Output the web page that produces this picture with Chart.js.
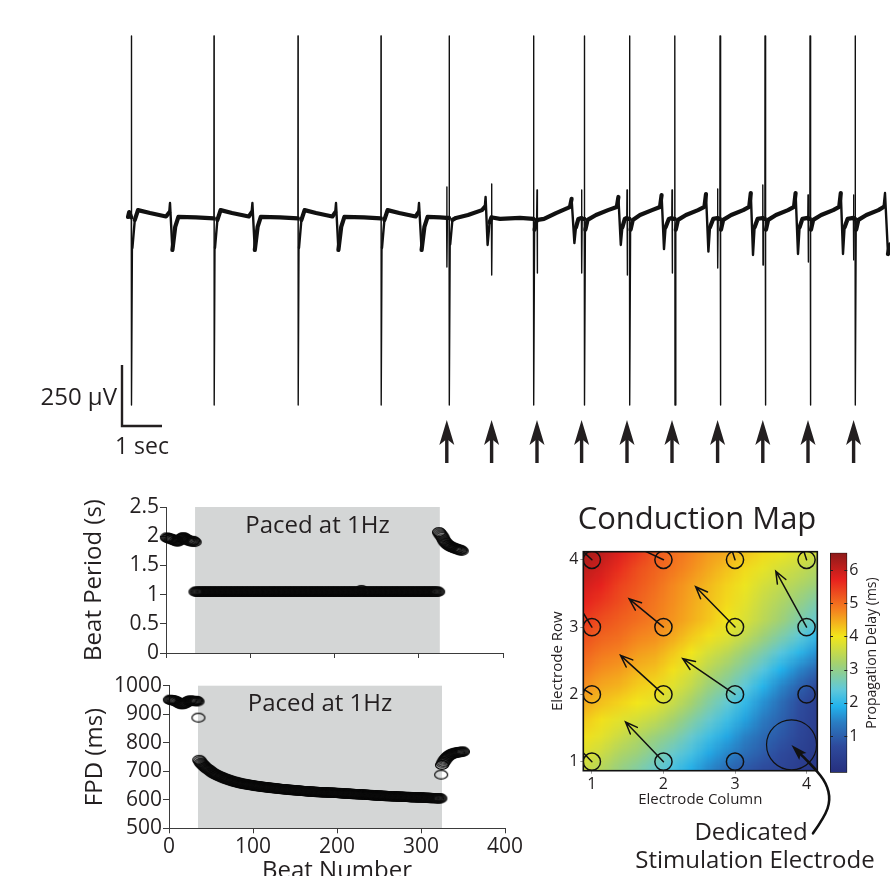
<!DOCTYPE html>
<html>
<head>
<meta charset="utf-8">
<script src="https://cdn.jsdelivr.net/npm/chart.js@4.4.1/dist/chart.umd.min.js"></script>
<style>
  html, body { margin: 0; padding: 0; background: #fff; }
  body { width: 890px; height: 876px; overflow: hidden; position: relative; }
  canvas { position: absolute; }
  #heat-clip { position: absolute; left: 583px; top: 552px; width: 234px; height: 219px; overflow: hidden; }
  #heat { left: -9px; top: -9px; width: 251px; height: 235px; }
</style>
</head>
<body>
<canvas id="trace" width="890" height="470" style="left:0;top:0"></canvas>
<canvas id="period" width="530" height="185" style="left:0;top:490px"></canvas>
<canvas id="fpd" width="530" height="230" style="left:0;top:670px"></canvas>
<div id="heat-clip"><canvas id="heat" width="14" height="14" style="width:251px;height:235px"></canvas></div>
<canvas id="map" width="350" height="381" style="left:540px;top:495px"></canvas>
<canvas id="colorbar" width="110" height="280" style="left:780px;top:540px"></canvas>
<script>
// Field potential recording: [time (s), voltage (µV)]
const tracePoints = [
  [0, -8], [0.03, 12], [0.082, -10], [0.085, 734], [0.09, -779], [0.11, -135], [0.17, -20], [0.25, 20], [0.55, 8], [0.95, -6], [1.03, 10], [1.05, 49], [1.11, -143], [1.18, -49], [1.26, -8], [1.7, -10], [2.147, -14],
  [2.15, 734], [2.155, -779], [2.175, -135], [2.235, -20], [2.315, 20], [2.6, 8], [3.02, -6], [3.09, 10], [3.11, 49], [3.17, -143], [3.24, -49], [3.32, -8], [3.8, -10], [4.247, -14],
  [4.25, 734], [4.255, -779], [4.275, -135], [4.335, -20], [4.415, 20], [4.7, 8], [5.11, -6], [5.18, 10], [5.2, 49], [5.26, -143], [5.33, -49], [5.41, -8], [5.9, -10], [6.322, -14],
  [6.325, 734], [6.33, -779], [6.35, -135], [6.41, -20], [6.49, 20], [6.78, 8], [7.19, -6], [7.255, 10], [7.275, 49], [7.34, -143], [7.41, -49], [7.49, -8], [7.8, -10], [7.965, -12],
  [7.97, 115], [7.975, -213], [7.985, -12], [8.027, -12], [8.03, 734], [8.035, -779], [8.055, -120], [8.11, -20], [8.2, -12], [8.5, 0], [8.85, 20], [8.92, 33], [8.94, 74], [8.99, -123], [9.04, -30], [9.085, -10], [9.09, 127], [9.095, -246], [9.105, -10], [9.3, -16], [9.8, -12], [10.137, -16],
  [10.14, 734], [10.145, -779], [10.165, -60], [10.215, -20], [10.225, 103], [10.23, -238], [10.24, -20], [10.4, -16], [10.7, 8], [11.0, 29], [11.05, 33], [11.09, 66], [11.16, -115], [11.2, -50], [11.26, -16], [11.335, -12],
  [11.34, 103], [11.345, -238], [11.355, -16], [11.407, -16], [11.41, 734], [11.415, -779], [11.435, -60], [11.49, -20], [11.7, 0], [12.0, 20], [12.22, 33], [12.26, 74], [12.32, -123], [12.36, -50], [12.42, -16], [12.47, -12],
  [12.475, 103], [12.48, -246], [12.49, -16], [12.537, -16], [12.54, 734], [12.545, -779], [12.565, -60], [12.62, -20], [12.8, 0], [13.1, 20], [13.3, 33], [13.34, 82], [13.4, -140], [13.44, -50], [13.52, -16], [13.595, -12],
  [13.6, 103], [13.605, -238], [13.615, -16], [13.667, -16], [13.67, 734], [13.675, -779], [13.695, -60], [13.75, -20], [13.95, 0], [14.25, 20], [14.41, 33], [14.45, 86], [14.51, -150], [14.55, -50], [14.63, -16], [14.735, -12],
  [14.74, 107], [14.745, -217], [14.755, -16], [14.797, -16], [14.8, 734], [14.805, -779], [14.825, -60], [14.88, -20], [15.08, 0], [15.38, 20], [15.53, 33], [15.57, 90], [15.625, -164], [15.665, -50], [15.74, -16], [15.865, -12],
  [15.87, 123], [15.875, -205], [15.885, -16], [15.922, -16], [15.925, 734], [15.93, -779], [15.95, -60], [16.005, -20], [16.2, 0], [16.5, 20], [16.65, 33], [16.69, 90], [16.75, -160], [16.79, -50], [16.86, -16], [16.995, -12],
  [17.0, 82], [17.005, -193], [17.015, -16], [17.047, -16], [17.05, 734], [17.055, -779], [17.075, -60], [17.13, -20], [17.33, 0], [17.63, 20], [17.78, 33], [17.82, 90], [17.875, -160], [17.915, -50], [17.99, -16], [18.135, -12],
  [18.14, 82], [18.145, -184], [18.155, -16], [18.177, -16], [18.18, 734], [18.185, -779], [18.205, -60], [18.26, -20], [18.46, 0], [18.76, 20], [18.89, 33], [18.925, 90], [19.0, -160], [19.05, -120],
]
const traceRangeSec = [0, 19.05]
const traceRangeMicrovolts = [-779, 734]
// stimulation pulses (arrows under the trace)
const stimulusSec = [7.97, 9.09, 10.225, 11.34, 12.475, 13.6, 14.74, 15.87, 17.0, 18.14]
const scaleBarSec = 1
const scaleBarMicrovolts = 250
const scaleBarOrigin = [-0.15, -865]

// beat period (s), beat number = index + 1
const spontaneousPeriodSec = [
  1.98, 1.97, 1.97, 1.96, 1.96, 1.95, 1.95, 1.94, 1.94, 1.93,
  1.92, 1.92, 1.91, 1.91, 1.92, 1.93, 1.95, 1.96, 1.97, 1.98,
  1.98, 1.97, 1.96, 1.95, 1.94, 1.93, 1.93, 1.92, 1.92, 1.91,
  1.91, 1.92, 1.91, 1.90,
]
const pacedPeriodSec = [
  1.05, 1.05, 1.05, 1.05, 1.05, 1.05, 1.05, 1.05, 1.05, 1.05,
  1.05, 1.05, 1.05, 1.05, 1.05, 1.05, 1.05, 1.05, 1.05, 1.05,
  1.05, 1.05, 1.05, 1.05, 1.05, 1.05, 1.05, 1.05, 1.05, 1.05,
  1.05, 1.05, 1.05, 1.05, 1.05, 1.05, 1.05, 1.05, 1.05, 1.05,
  1.05, 1.05, 1.05, 1.05, 1.05, 1.05, 1.05, 1.05, 1.05, 1.05,
  1.05, 1.05, 1.05, 1.05, 1.05, 1.05, 1.05, 1.05, 1.05, 1.05,
  1.05, 1.05, 1.05, 1.05, 1.05, 1.05, 1.05, 1.05, 1.05, 1.05,
  1.05, 1.05, 1.05, 1.05, 1.05, 1.05, 1.05, 1.05, 1.05, 1.05,
  1.05, 1.05, 1.05, 1.05, 1.05, 1.05, 1.05, 1.05, 1.05, 1.05,
  1.05, 1.05, 1.05, 1.05, 1.05, 1.05, 1.05, 1.05, 1.05, 1.05,
  1.05, 1.05, 1.05, 1.05, 1.05, 1.05, 1.05, 1.05, 1.05, 1.05,
  1.05, 1.05, 1.05, 1.05, 1.05, 1.05, 1.05, 1.05, 1.05, 1.05,
  1.05, 1.05, 1.05, 1.05, 1.05, 1.05, 1.05, 1.05, 1.05, 1.05,
  1.05, 1.05, 1.05, 1.05, 1.05, 1.05, 1.05, 1.05, 1.05, 1.05,
  1.05, 1.05, 1.05, 1.05, 1.05, 1.05, 1.05, 1.05, 1.05, 1.05,
  1.05, 1.05, 1.05, 1.05, 1.05, 1.05, 1.05, 1.05, 1.05, 1.05,
  1.05, 1.05, 1.05, 1.05, 1.05, 1.05, 1.05, 1.05, 1.05, 1.05,
  1.05, 1.05, 1.05, 1.05, 1.05, 1.05, 1.05, 1.05, 1.05, 1.05,
  1.05, 1.05, 1.05, 1.05, 1.05, 1.05, 1.05, 1.05, 1.05, 1.05,
  1.05, 1.05, 1.05, 1.05, 1.05, 1.05, 1.05, 1.08, 1.05, 1.05,
  1.05, 1.05, 1.05, 1.05, 1.05, 1.05, 1.05, 1.05, 1.05, 1.05,
  1.05, 1.05, 1.05, 1.05, 1.05, 1.05, 1.05, 1.05, 1.05, 1.05,
  1.05, 1.05, 1.05, 1.05, 1.05, 1.05, 1.05, 1.05, 1.05, 1.05,
  1.05, 1.05, 1.05, 1.05, 1.05, 1.05, 1.05, 1.05, 1.05, 1.05,
  1.05, 1.05, 1.05, 1.05, 1.05, 1.05, 1.05, 1.05, 1.05, 1.05,
  1.05, 1.05, 1.05, 1.05, 1.05, 1.05, 1.05, 1.05, 1.05, 1.05,
  1.05, 1.05, 1.05, 1.05, 1.05, 1.05, 1.05, 1.05, 1.05, 1.05,
  1.05, 1.05, 1.05, 1.05, 1.05, 1.05, 1.05, 1.05, 1.05, 1.05,
  1.05, 1.05, 1.05, 1.05, 1.05, 1.05, 1.05, 1.05, 1.05,
]
const recoveryPeriodSec = [
  2.07, 2.05, 2.03, 2.01, 1.99, 1.96, 1.93, 1.91, 1.89, 1.88,
  1.86, 1.85, 1.84, 1.83, 1.82, 1.82, 1.81, 1.80, 1.80, 1.79,
  1.79, 1.78, 1.78, 1.77, 1.77, 1.76, 1.76, 1.75,
]

// field potential duration (ms), beat number = index + 1
const spontaneousFpdMs = [
  951, 950, 950, 949, 949, 948, 947, 946, 945, 943,
  941, 939, 937, 936, 935, 935, 936, 937, 938, 940,
  942, 944, 946, 947, 948, 948, 947, 947, 946, 946,
  947, 947, 946, 945,
]
const pacingOnsetFpdMs = [888]
const pacedFpdMs = [
  740, 735, 730, 727,
  724, 721, 718, 715, 712, 710, 708, 706, 704, 702,
  699, 697, 695, 693, 691, 690, 688, 687, 685, 684,
  683, 681, 680, 679, 678, 676, 675, 674, 673, 672,
  671, 670, 669, 668, 667, 666, 665, 664, 663, 663,
  662, 661, 660, 660, 659, 658, 657, 657, 656, 656,
  655, 655, 654, 654, 653, 653, 652, 652, 651, 651,
  650, 650, 649, 649, 648, 648, 648, 647, 647, 646,
  646, 646, 645, 645, 644, 644, 644, 643, 643, 643,
  642, 642, 642, 641, 641, 641, 640, 640, 640, 639,
  639, 639, 638, 638, 638, 637, 637, 637, 637, 636,
  636, 636, 635, 635, 635, 635, 634, 634, 634, 634,
  633, 633, 633, 633, 632, 632, 632, 632, 631, 631,
  631, 631, 630, 630, 630, 630, 629, 629, 629, 629,
  629, 628, 628, 628, 628, 628, 627, 627, 627, 627,
  627, 627, 626, 626, 626, 626, 626, 626, 626, 625,
  625, 625, 625, 625, 625, 625, 625, 624, 624, 624,
  624, 624, 624, 623, 623, 623, 623, 623, 622, 622,
  622, 622, 622, 622, 621, 621, 621, 621, 621, 620,
  620, 620, 620, 620, 620, 619, 619, 619, 619, 619,
  619, 618, 618, 618, 618, 618, 617, 617, 617, 617,
  617, 616, 616, 616, 616, 616, 615, 615, 615, 615,
  615, 615, 614, 614, 614, 614, 614, 614, 613, 613,
  613, 613, 613, 613, 613, 612, 612, 612, 612, 612,
  612, 612, 611, 611, 611, 611, 611, 611, 611, 610,
  610, 610, 610, 610, 610, 610, 610, 609, 609, 609,
  609, 609, 609, 609, 609, 608, 608, 608, 608, 608,
  608, 608, 608, 607, 607, 607, 607, 607, 607, 607,
  607, 606, 606, 606, 606, 606, 606, 606, 606, 605,
  605, 605, 605, 605,
]
const pacingOffsetFpdMs = [688]
const recoveryFpdMs = [
  722, 728, 733, 738, 742, 746, 749, 752, 754, 756,
  758, 760, 761, 762, 763, 764, 765, 765, 766, 766,
  767, 767, 768, 768, 769, 769,
]
const pacedBeatRange = [34.5, 325]

// conduction map: propagation delay (ms) on a 0.25-electrode grid, top row first
const gridColumns = [0.875, 1.125, 1.375, 1.625, 1.875, 2.125, 2.375, 2.625, 2.875, 3.125, 3.375, 3.625, 3.875, 4.125]
const gridRows = [4.125, 3.875, 3.625, 3.375, 3.125, 2.875, 2.625, 2.375, 2.125, 1.875, 1.625, 1.375, 1.125, 0.875]
const delayGridMs = [
  [6.3, 6.1, 5.8, 5.5, 5.2, 5.0, 4.8, 4.6, 4.5, 4.3, 4.1, 3.95, 3.8, 3.65],
  [6.1, 5.9, 5.6, 5.3, 5.1, 4.9, 4.7, 4.5, 4.3, 4.1, 3.9, 3.7, 3.55, 3.35],
  [5.9, 5.7, 5.4, 5.2, 5.0, 4.75, 4.55, 4.35, 4.15, 3.95, 3.7, 3.5, 3.3, 3.1],
  [5.7, 5.5, 5.3, 5.1, 4.9, 4.7, 4.5, 4.3, 4.1, 3.85, 3.55, 3.3, 3.05, 2.75],
  [5.5, 5.3, 5.15, 5.0, 4.85, 4.65, 4.45, 4.25, 4.0, 3.75, 3.45, 3.15, 2.8, 2.5],
  [5.3, 5.1, 5.0, 4.8, 4.7, 4.5, 4.25, 4.05, 3.8, 3.5, 3.15, 2.8, 2.45, 2.05],
  [5.1, 4.9, 4.8, 4.6, 4.5, 4.25, 4.0, 3.7, 3.45, 3.1, 2.75, 2.35, 2.0, 1.6],
  [4.9, 4.7, 4.6, 4.4, 4.3, 4.05, 3.75, 3.4, 3.1, 2.75, 2.35, 1.9, 1.5, 1.1],
  [4.7, 4.5, 4.4, 4.2, 4.1, 3.8, 3.5, 3.1, 2.8, 2.4, 1.95, 1.5, 1.05, 0.65],
  [4.5, 4.3, 4.15, 4.0, 3.85, 3.55, 3.2, 2.8, 2.45, 2.05, 1.6, 1.2, 0.75, 0.4],
  [4.25, 4.05, 3.85, 3.7, 3.5, 3.2, 2.85, 2.5, 2.15, 1.75, 1.4, 1.05, 0.7, 0.35],
  [4.05, 3.85, 3.6, 3.35, 3.1, 2.85, 2.5, 2.15, 1.8, 1.45, 1.15, 0.9, 0.6, 0.3],
  [3.8, 3.6, 3.3, 3.1, 2.8, 2.5, 2.2, 1.8, 1.5, 1.2, 0.95, 0.7, 0.45, 0.25],
  [3.6, 3.35, 3.05, 2.8, 2.5, 2.2, 1.85, 1.5, 1.15, 0.9, 0.7, 0.55, 0.35, 0.15],
]
const mapRangeColumns = [0.88, 4.15]
const mapRangeRows = [0.866, 4.12]
const electrodeTicks = [1, 2, 3, 4]
const electrodes = [
  [1, 4], [2, 4], [3, 4], [4, 4],
  [1, 3], [2, 3], [3, 3], [4, 3],
  [1, 2], [2, 2], [3, 2], [4, 2],
  [1, 1], [2, 1], [3, 1],
]
const stimElectrode = [3.79, 1.25]
// conduction vectors: start electrode and (column, row) components
const vectorStarts = [[2, 3], [3, 3], [4, 3], [2, 2], [3, 2], [2, 1], [1, 4], [2, 4], [1, 3], [1, 2], [1, 1], [3, 4], [4, 4]]
const vectorComponents = [
  [-0.48, 0.42], [-0.55, 0.6], [-0.43, 0.83], [-0.6, 0.58], [-0.73, 0.53], [-0.53, 0.59],
  [-0.5, 0.5], [-0.6, 0.3], [-0.4, 0.7], [-0.6, 0.4], [-0.5, 0.55], [-0.15, 0.5], [-0.15, 0.5],
]
// callout from the label to the stimulation electrode, in electrode units
const calloutPath = [[4.09, -0.065], [4.254, 0.182], [4.333, 0.43], [4.278, 0.679], [4.114, 0.902], [3.951, 1.074], [3.789, 1.249]]
const colorbarRange = [-0.1, 6.52]
const colorbarTicks = [1, 2, 3, 4, 5, 6]
const colormapStops = [-0.1, 0.7, 1.4, 1.9, 2.4, 3.2, 4.0, 4.8, 5.7, 6.52]
const colormapColors = ['#262f7e', '#2e4a9c', '#2a7cc2', '#22b3ec', '#5fc8da', '#a5d26e', '#f2e61b', '#f5821f', '#e7221e', '#8c1a1a']

const FONT = '"Open Sans", sans-serif'
const INK = '#231f20'
const AXIS = '#3b3b3b'
const SHADE = '#d4d6d6'

const { Chart } = window

function hexToRgb(hex) {
  const n = parseInt(hex.slice(1), 16)
  return [(n >> 16) & 255, (n >> 8) & 255, n & 255]
}
const colormapRgb = colormapColors.map(hexToRgb)

function delayColor(v) {
  if (v <= colormapStops[0]) return colormapColors[0]
  for (let i = 1; i < colormapStops.length; i++) {
    if (v <= colormapStops[i]) {
      const f = (v - colormapStops[i - 1]) / (colormapStops[i] - colormapStops[i - 1])
      const a = colormapRgb[i - 1]
      const b = colormapRgb[i]
      return `rgb(${a.map((c, k) => Math.round(c + (b[k] - c) * f)).join(',')})`
    }
  }
  return colormapColors[colormapColors.length - 1]
}

// open oval used for every beat marker
function ringMarker() {
  const c = document.createElement('canvas')
  c.width = 16
  c.height = 12
  const g = c.getContext('2d')
  g.strokeStyle = '#0a0a0a'
  g.lineWidth = 1.2
  g.beginPath()
  g.ellipse(8, 6, 6.5, 4.4, 0, 0, Math.PI * 2)
  g.stroke()
  return c
}

const plainNumber = (v) => String(v)

const traceDecor = {
  id: 'traceDecor',
  afterDraw(chart) {
    const { ctx, chartArea, scales: { x, y } } = chart
    ctx.save()
    ctx.strokeStyle = INK
    ctx.fillStyle = INK
    ctx.lineWidth = 2.4
    const x0 = x.getPixelForValue(scaleBarOrigin[0])
    const x1 = x.getPixelForValue(scaleBarOrigin[0] + scaleBarSec)
    const y0 = y.getPixelForValue(scaleBarOrigin[1])
    const y1 = y.getPixelForValue(scaleBarOrigin[1] + scaleBarMicrovolts)
    ctx.beginPath()
    ctx.moveTo(x0, y1)
    ctx.lineTo(x0, y0)
    ctx.lineTo(x1, y0)
    ctx.stroke()
    ctx.font = `24px ${FONT}`
    ctx.textAlign = 'right'
    ctx.textBaseline = 'alphabetic'
    ctx.fillText('250 µV', x0 - 5, y0 - 21)
    ctx.font = `23px ${FONT}`
    ctx.textAlign = 'center'
    ctx.fillText('1 sec', (x0 + x1) / 2, y0 + 28)

    const tip = chartArea.bottom + 15
    for (const t of stimulusSec) {
      const px = x.getPixelForValue(t)
      ctx.fillRect(px - 1.7, tip + 16, 3.4, 27)
      ctx.beginPath()
      ctx.moveTo(px, tip)
      ctx.lineTo(px + 7.5, tip + 25)
      ctx.lineTo(px, tip + 19)
      ctx.lineTo(px - 7.5, tip + 25)
      ctx.closePath()
      ctx.fill()
    }
    ctx.restore()
  },
}

const pacedShade = {
  id: 'pacedShade',
  beforeDraw(chart) {
    const { ctx, chartArea, scales: { x } } = chart
    const left = x.getPixelForValue(pacedBeatRange[0])
    const right = x.getPixelForValue(pacedBeatRange[1])
    ctx.save()
    ctx.fillStyle = SHADE
    ctx.fillRect(left, chartArea.top, right - left, chartArea.bottom - chartArea.top)
    ctx.fillStyle = INK
    ctx.font = `24px ${FONT}`
    ctx.textAlign = 'center'
    ctx.textBaseline = 'alphabetic'
    ctx.fillText('Paced at 1Hz', (left + right) / 2, chartArea.top + 25.5)
    ctx.restore()
  },
}

function beatScatter(canvas, values, opts) {
  return new Chart(canvas, {
    type: 'scatter',
    data: {
      datasets: [{
        data: values.map((v, i) => ({ x: i + 1, y: v })),
        pointStyle: ringMarker(),
        pointRadius: 6,
        clip: false,
      }],
    },
    options: {
      responsive: false,
      animation: false,
      events: [],
      layout: { padding: { left: 0, right: opts.padRight, top: opts.padTop, bottom: 0 } },
      scales: {
        x: {
          type: 'linear',
          min: 0,
          max: 400,
          ticks: { stepSize: 100, display: opts.xLabels, font: { size: 21 }, color: INK, padding: 1, maxRotation: 0, callback: plainNumber },
          grid: { drawOnChartArea: false, tickLength: 5, color: AXIS },
          border: { color: AXIS, width: 1 },
          title: { display: opts.xLabels, text: 'Beat Number', font: { size: 24 }, color: INK, padding: { top: 0, bottom: 14.6 } },
          afterFit: (s) => { s.height = opts.xHeight },
        },
        y: {
          min: opts.yMin,
          max: opts.yMax,
          ticks: { stepSize: opts.yStep, font: { size: 21 }, color: INK, padding: 1, callback: plainNumber },
          grid: { drawOnChartArea: false, tickLength: 6, color: AXIS },
          border: { color: AXIS, width: 1 },
          title: { display: true, text: opts.yTitle, font: { size: 24 }, color: INK, padding: { top: opts.titleX - 14.4, bottom: 0 } },
          afterFit: (s) => { s.width = opts.yWidth },
        },
      },
      plugins: { legend: { display: false }, tooltip: { enabled: false } },
    },
    plugins: [pacedShade],
  })
}

const mapDecor = {
  id: 'mapDecor',
  afterDatasetsDraw(chart) {
    const { ctx, chartArea: ca, scales: { x, y } } = chart
    ctx.save()
    ctx.beginPath()
    ctx.rect(ca.left, ca.top, ca.right - ca.left, ca.bottom - ca.top)
    ctx.clip()
    ctx.strokeStyle = '#111'
    ctx.lineWidth = 1.5
    ctx.lineCap = 'round'
    vectorStarts.forEach(([c, r], i) => {
      const [dc, dr] = vectorComponents[i]
      const x0 = x.getPixelForValue(c)
      const y0 = y.getPixelForValue(r)
      const x1 = x.getPixelForValue(c + dc)
      const y1 = y.getPixelForValue(r + dr)
      const a = Math.atan2(y1 - y0, x1 - x0)
      ctx.beginPath()
      ctx.moveTo(x0, y0)
      ctx.lineTo(x1, y1)
      ctx.moveTo(x1 - 13 * Math.cos(a - 0.38), y1 - 13 * Math.sin(a - 0.38))
      ctx.lineTo(x1, y1)
      ctx.lineTo(x1 - 13 * Math.cos(a + 0.38), y1 - 13 * Math.sin(a + 0.38))
      ctx.stroke()
    })
    ctx.restore()
    ctx.save()
    ctx.strokeStyle = '#111'
    ctx.lineWidth = 1.6
    ctx.strokeRect(ca.left, ca.top, ca.right - ca.left, ca.bottom - ca.top)
    ctx.restore()
  },
  afterDraw(chart) {
    const { ctx, scales: { x, y } } = chart
    ctx.save()
    ctx.fillStyle = INK
    ctx.textBaseline = 'alphabetic'
    ctx.textAlign = 'center'
    ctx.font = `31px ${FONT}`
    ctx.fillText('Conduction Map', 157, 34)
    ctx.font = `24px ${FONT}`
    ctx.fillText('Dedicated', 211, 345)
    ctx.fillText('Stimulation Electrode', 215, 373)

    // callout curve
    const pts = calloutPath.map(([c, r]) => [x.getPixelForValue(c), y.getPixelForValue(r)])
    const n = pts.length
    const tip = pts[n - 1]
    const prev = pts[n - 2]
    const a = Math.atan2(tip[1] - prev[1], tip[0] - prev[0])
    const headLen = 17
    const baseX = tip[0] - (headLen - 4) * Math.cos(a)
    const baseY = tip[1] - (headLen - 4) * Math.sin(a)
    ctx.strokeStyle = '#111'
    ctx.lineWidth = 2.6
    ctx.lineCap = 'round'
    ctx.beginPath()
    ctx.moveTo(pts[0][0], pts[0][1])
    for (let i = 1; i < n - 2; i++) {
      const mx = (pts[i][0] + pts[i + 1][0]) / 2
      const my = (pts[i][1] + pts[i + 1][1]) / 2
      ctx.quadraticCurveTo(pts[i][0], pts[i][1], mx, my)
    }
    ctx.quadraticCurveTo(pts[n - 2][0], pts[n - 2][1], baseX, baseY)
    ctx.stroke()
    ctx.fillStyle = '#111'
    ctx.beginPath()
    ctx.moveTo(tip[0], tip[1])
    ctx.lineTo(tip[0] - headLen * Math.cos(a - 0.3), tip[1] - headLen * Math.sin(a - 0.3))
    ctx.lineTo(baseX, baseY)
    ctx.lineTo(tip[0] - headLen * Math.cos(a + 0.3), tip[1] - headLen * Math.sin(a + 0.3))
    ctx.closePath()
    ctx.fill()
    ctx.restore()
  },
}

const colorbarDecor = {
  id: 'colorbarDecor',
  afterDatasetsDraw(chart) {
    const { ctx, chartArea: ca, scales: { y } } = chart
    ctx.save()
    ctx.strokeStyle = '#222'
    ctx.lineWidth = 1
    for (const t of colorbarTicks) {
      const py = Math.round(y.getPixelForValue(t)) + 0.5
      ctx.beginPath()
      ctx.moveTo(ca.left, py)
      ctx.lineTo(ca.left + 3, py)
      ctx.moveTo(ca.right, py)
      ctx.lineTo(ca.right - 3, py)
      ctx.stroke()
    }
    ctx.fillStyle = INK
    ctx.font = `14px ${FONT}`
    ctx.textAlign = 'center'
    ctx.textBaseline = 'middle'
    ctx.translate(91.7, 113)
    ctx.rotate(-Math.PI / 2)
    ctx.fillText('Propagation Delay (ms)', 0, 0)
    ctx.restore()
  },
}

function render() {
  Chart.defaults.font.family = FONT
  Chart.defaults.color = INK

  new Chart(document.getElementById('trace'), {
    type: 'line',
    data: {
      datasets: [{
        data: tracePoints.map(([t, v]) => ({ x: t, y: v })),
        borderColor: '#111',
        pointRadius: 0,
        tension: 0,
        borderJoinStyle: 'round',
        borderCapStyle: 'round',
        clip: false,
        segment: {
          borderWidth: (c) => {
            const a = c.p0.parsed
            const b = c.p1.parsed
            const slope = Math.abs((b.y - a.y) / Math.max(b.x - a.x, 1e-6))
            return slope > 8000 ? 1.4 : slope > 1500 ? 2.4 : 4.2
          },
        },
      }],
    },
    options: {
      responsive: false,
      animation: false,
      events: [],
      layout: { padding: { left: 128, right: 0, top: 36, bottom: 65 } },
      scales: {
        x: { type: 'linear', display: false, min: traceRangeSec[0], max: traceRangeSec[1] },
        y: { display: false, min: traceRangeMicrovolts[0], max: traceRangeMicrovolts[1] },
      },
      plugins: { legend: { display: false }, tooltip: { enabled: false } },
    },
    plugins: [traceDecor],
  })

  beatScatter(document.getElementById('period'), [...spontaneousPeriodSec, ...pacedPeriodSec, ...recoveryPeriodSec], {
    padRight: 27, padTop: 17, xHeight: 22, xLabels: false, yWidth: 166, titleX: 94,
    yMin: 0, yMax: 2.5, yStep: 0.5, yTitle: 'Beat Period (s)',
  })

  beatScatter(document.getElementById('fpd'), [...spontaneousFpdMs, ...pacingOnsetFpdMs, ...pacedFpdMs, ...pacingOffsetFpdMs, ...recoveryFpdMs], {
    padRight: 25, padTop: 15.7, xHeight: 71.7, xLabels: true, yWidth: 169, titleX: 95,
    yMin: 500, yMax: 1000, yStep: 100, yTitle: 'FPD (ms)',
  })

  // one canvas pixel per grid cell; the browser's smooth upscaling shades it
  new Chart(document.getElementById('heat'), {
    type: 'bar',
    data: {
      labels: gridColumns.map(String),
      datasets: gridRows.map((r, i) => ({
        data: gridColumns.map(() => [r - 0.125, r + 0.125]),
        backgroundColor: delayGridMs[i].map(delayColor),
        borderWidth: 0,
        inflateAmount: 0,
        grouped: false,
        barPercentage: 1,
        categoryPercentage: 1,
      })),
    },
    options: {
      responsive: false,
      animation: false,
      events: [],
      devicePixelRatio: 1,
      layout: { padding: 0 },
      scales: {
        x: { display: false },
        y: { display: false, min: 0.75, max: 4.25 },
      },
      plugins: { legend: { display: false }, tooltip: { enabled: false } },
    },
  })

  new Chart(document.getElementById('map'), {
    type: 'scatter',
    data: {
      datasets: [
        {
          data: electrodes.map(([c, r]) => ({ x: c, y: r })),
          pointStyle: 'circle',
          pointRadius: 8.6,
          pointBorderWidth: 1.5,
          pointBorderColor: '#111',
          pointBackgroundColor: 'rgba(0,0,0,0)',
          clip: 0,
        },
        {
          data: [{ x: stimElectrode[0], y: stimElectrode[1] }],
          pointStyle: 'circle',
          pointRadius: 25,
          pointBorderWidth: 1.2,
          pointBorderColor: '#111',
          pointBackgroundColor: 'rgba(0,0,0,0)',
          clip: 0,
        },
      ],
    },
    options: {
      responsive: false,
      animation: false,
      events: [],
      layout: { padding: { left: 0, right: 72.7, top: 56.7, bottom: 0 } },
      scales: {
        x: {
          type: 'linear',
          min: mapRangeColumns[0],
          max: mapRangeColumns[1],
          afterBuildTicks: (s) => { s.ticks = electrodeTicks.map((value) => ({ value })) },
          ticks: { font: { size: 16 }, color: INK, padding: 1, callback: plainNumber },
          grid: { drawOnChartArea: false, tickLength: 3, color: '#999' },
          border: { display: false },
          title: { display: true, text: 'Electrode Column', font: { size: 15 }, color: INK, padding: { top: 0, bottom: 67.7 } },
          afterFit: (s) => { s.height = 105.3 },
        },
        y: {
          type: 'linear',
          min: mapRangeRows[0],
          max: mapRangeRows[1],
          afterBuildTicks: (s) => { s.ticks = electrodeTicks.map((value) => ({ value })) },
          ticks: { font: { size: 16 }, color: INK, padding: 2, callback: plainNumber },
          grid: { drawOnChartArea: false, tickLength: 3, color: '#999' },
          border: { display: false },
          title: { display: true, text: 'Electrode Row', font: { size: 15 }, color: INK, padding: { top: 9, bottom: 0 } },
          afterFit: (s) => { s.width = 43.3 },
        },
      },
      plugins: { legend: { display: false }, tooltip: { enabled: false } },
    },
    plugins: [mapDecor],
  })

  new Chart(document.getElementById('colorbar'), {
    type: 'bar',
    data: {
      labels: [''],
      datasets: [{
        data: [colorbarRange],
        backgroundColor: (c) => {
          const { chart } = c
          const { chartArea, scales } = chart
          if (!chartArea) return colormapColors[0]
          const yb = scales.y.getPixelForValue(colorbarRange[0])
          const yt = scales.y.getPixelForValue(colorbarRange[1])
          const g = chart.ctx.createLinearGradient(0, yb, 0, yt)
          colormapStops.forEach((v, i) => {
            g.addColorStop((v - colorbarRange[0]) / (colorbarRange[1] - colorbarRange[0]), colormapColors[i])
          })
          return g
        },
        borderColor: '#111',
        borderWidth: 1,
        borderSkipped: false,
        barPercentage: 1,
        categoryPercentage: 1,
      }],
    },
    options: {
      responsive: false,
      animation: false,
      events: [],
      layout: { padding: { left: 50, right: 0, top: 12.7, bottom: 47.3 } },
      scales: {
        x: { display: false },
        y: {
          position: 'right',
          min: colorbarRange[0],
          max: colorbarRange[1],
          afterBuildTicks: (s) => { s.ticks = colorbarTicks.map((value) => ({ value })) },
          ticks: { font: { size: 16 }, color: INK, padding: 2, callback: plainNumber },
          grid: { display: false, drawTicks: false },
          border: { display: false },
          afterFit: (s) => { s.width = 42.7 },
        },
      },
      plugins: { legend: { display: false }, tooltip: { enabled: false } },
    },
    plugins: [colorbarDecor],
  })
}

Promise.all([
  document.fonts.load(`24px ${FONT}`),
  document.fonts.load(`16px ${FONT}`),
]).then(render, render)
</script>
</body>
</html>
